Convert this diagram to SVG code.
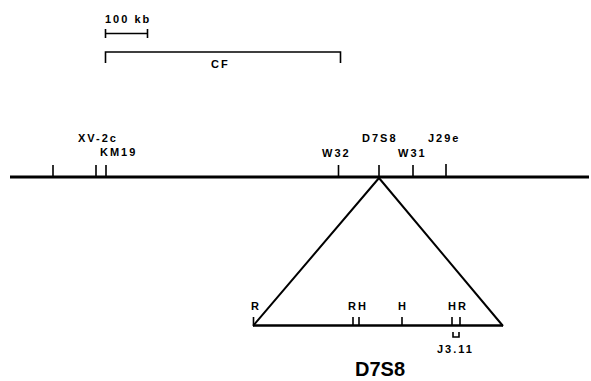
<svg xmlns="http://www.w3.org/2000/svg" width="591" height="381" viewBox="0 0 591 381">
<style>
.ln{stroke:#000;stroke-width:1.6;fill:none}
.thick{stroke:#000;stroke-width:3;fill:none}
.lb{font-family:"Liberation Sans",Arial,sans-serif;font-weight:bold;font-size:11px;letter-spacing:2px;fill:#000}
.big{font-family:"Liberation Sans",Arial,sans-serif;font-weight:bold;font-size:20px;fill:#000}
</style>
<rect width="591" height="381" fill="#fff"/>
<g id="scale">
<text class="lb" x="105" y="23">100 kb</text>
<path class="ln" d="M105,33.5H148M105.5,29V38M147.5,29V38"/>
</g>
<g id="cf">
<path class="ln" d="M105.5,63V52H340.5V63"/>
<text class="lb" x="211" y="68">CF</text>
</g>
<g id="chromosome">
<path class="thick" d="M10,177H589"/>
<path class="ln" d="M53,165V177M96,165V177M106,165V177M338.5,165V177M379,165V177M413,165V177M446,164V177"/>
<text class="lb" x="78" y="142">XV-2c</text>
<text class="lb" x="100" y="156">KM19</text>
<text class="lb" x="322" y="157">W32</text>
<text class="lb" x="362" y="142">D7S8</text>
<text class="lb" x="398" y="157">W31</text>
<text class="lb" x="428" y="142">J29e</text>
</g>
<g id="connectors">
<path class="ln" d="M379,178L253,326M379,178L503,326" style="stroke-width:2"/>
</g>
<g id="d7s8-map">
<path class="thick" d="M253,325.5H503" style="stroke-width:2.5"/>
<path class="ln" d="M253.5,317V325M353,317V325M359,317V325M402,317V325M452,317V325M460,317V325"/>
<text class="lb" x="251" y="310">R</text>
<text class="lb" x="348" y="310">RH</text>
<text class="lb" x="398" y="310">H</text>
<text class="lb" x="448" y="310">HR</text>
<path class="ln" d="M453,332V337H459V332"/>
<text class="lb" x="437" y="353">J3.11</text>
<text class="big" x="355" y="376">D7S8</text>
</g>
</svg>
